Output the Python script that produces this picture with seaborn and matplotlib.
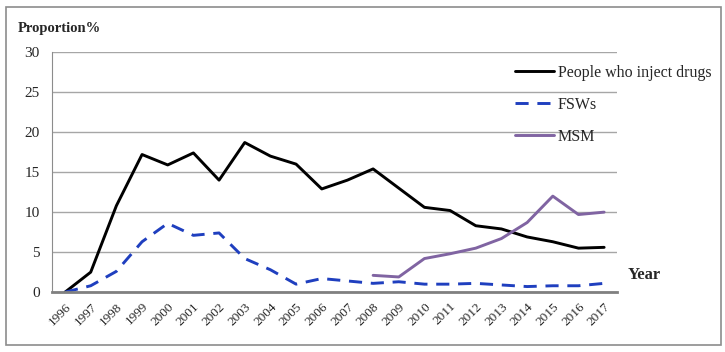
import pandas as pd
import matplotlib
matplotlib.use("Agg")
import matplotlib.pyplot as plt
import seaborn as sns
from matplotlib.patches import Rectangle

sns.set_style("white")
plt.rcParams['font.family'] = ['Liberation Serif', 'DejaVu Serif']

# data
years = list(range(1996, 2018))
pwid = [0, 2.5, 10.8, 17.2, 15.9, 17.4, 14.0, 18.7, 17.0, 16.0, 12.9,
        14.0, 15.4, 13.0, 10.6, 10.2, 8.3, 7.9, 6.9, 6.3, 5.5, 5.6]
fsw = [0, 0.8, 2.6, 6.3, 8.6, 7.1, 7.4, 4.2, 2.8, 1.0, 1.7,
       1.4, 1.1, 1.3, 1.0, 1.0, 1.1, 0.9, 0.7, 0.8, 0.8, 1.1]
msm_years = list(range(2008, 2018))
msm = [2.1, 1.9, 4.2, 4.8, 5.5, 6.7, 8.7, 12.0, 9.7, 10.0]

df_pwid = pd.DataFrame({'Year': years, 'Value': pwid})
df_fsw = pd.DataFrame({'Year': years, 'Value': fsw})
df_msm = pd.DataFrame({'Year': msm_years, 'Value': msm})

fig = plt.figure(figsize=(7.25, 3.52), dpi=100)
ax = fig.add_axes([0.072, 0.17, 0.779, 0.682])

sns.lineplot(data=df_pwid, x='Year', y='Value', ax=ax, color='black',
             linewidth=2.1, label='People who inject drugs')
sns.lineplot(data=df_fsw, x='Year', y='Value', ax=ax, color='#1f3fbf',
             linewidth=2.1, dashes=False, label='FSWs')
ax.lines[1].set_dashes((4.5, 3))
sns.lineplot(data=df_msm, x='Year', y='Value', ax=ax, color='#8064A2',
             linewidth=2.1, label='MSM')

ax.set_xlim(1995.5, 2017.5)
ax.set_ylim(0, 30)
ax.set_yticks(range(0, 31, 5))
ax.set_xticks(years)
ax.set_xticklabels([str(y) for y in years], rotation=45, ha='right',
                   rotation_mode='anchor', fontsize=9.5)
ax.tick_params(axis='y', length=0, pad=9, labelsize=11)
ax.tick_params(axis='x', length=0, pad=6)
ax.yaxis.grid(True, color='#a6a6a6', linewidth=1)
ax.set_xlabel('')
ax.set_ylabel('')
for s in ['top', 'right']:
    ax.spines[s].set_visible(False)
ax.spines['left'].set_color('#8c8c8c')
ax.spines['bottom'].set_color('#808080')
ax.spines['bottom'].set_linewidth(2)

ax.legend(loc='upper left', bbox_to_anchor=(0.699, 0.838), bbox_transform=fig.transFigure,
          frameon=False, fontsize=11.5, borderpad=0, labelspacing=1.0,
          handlelength=2.45, handletextpad=0.25)

fig.text(0.025, 0.92, 'Proportion%', fontsize=10.5, fontweight='bold', va='center')
fig.text(0.866, 0.218, 'Year', fontsize=12, fontweight='bold', va='center')

fig.patches.append(Rectangle((0.008, 0.02), 0.986, 0.96, transform=fig.transFigure,
                             fill=False, edgecolor='#8c8c8c', linewidth=1.2))

plt.savefig('out.png', dpi=100)
